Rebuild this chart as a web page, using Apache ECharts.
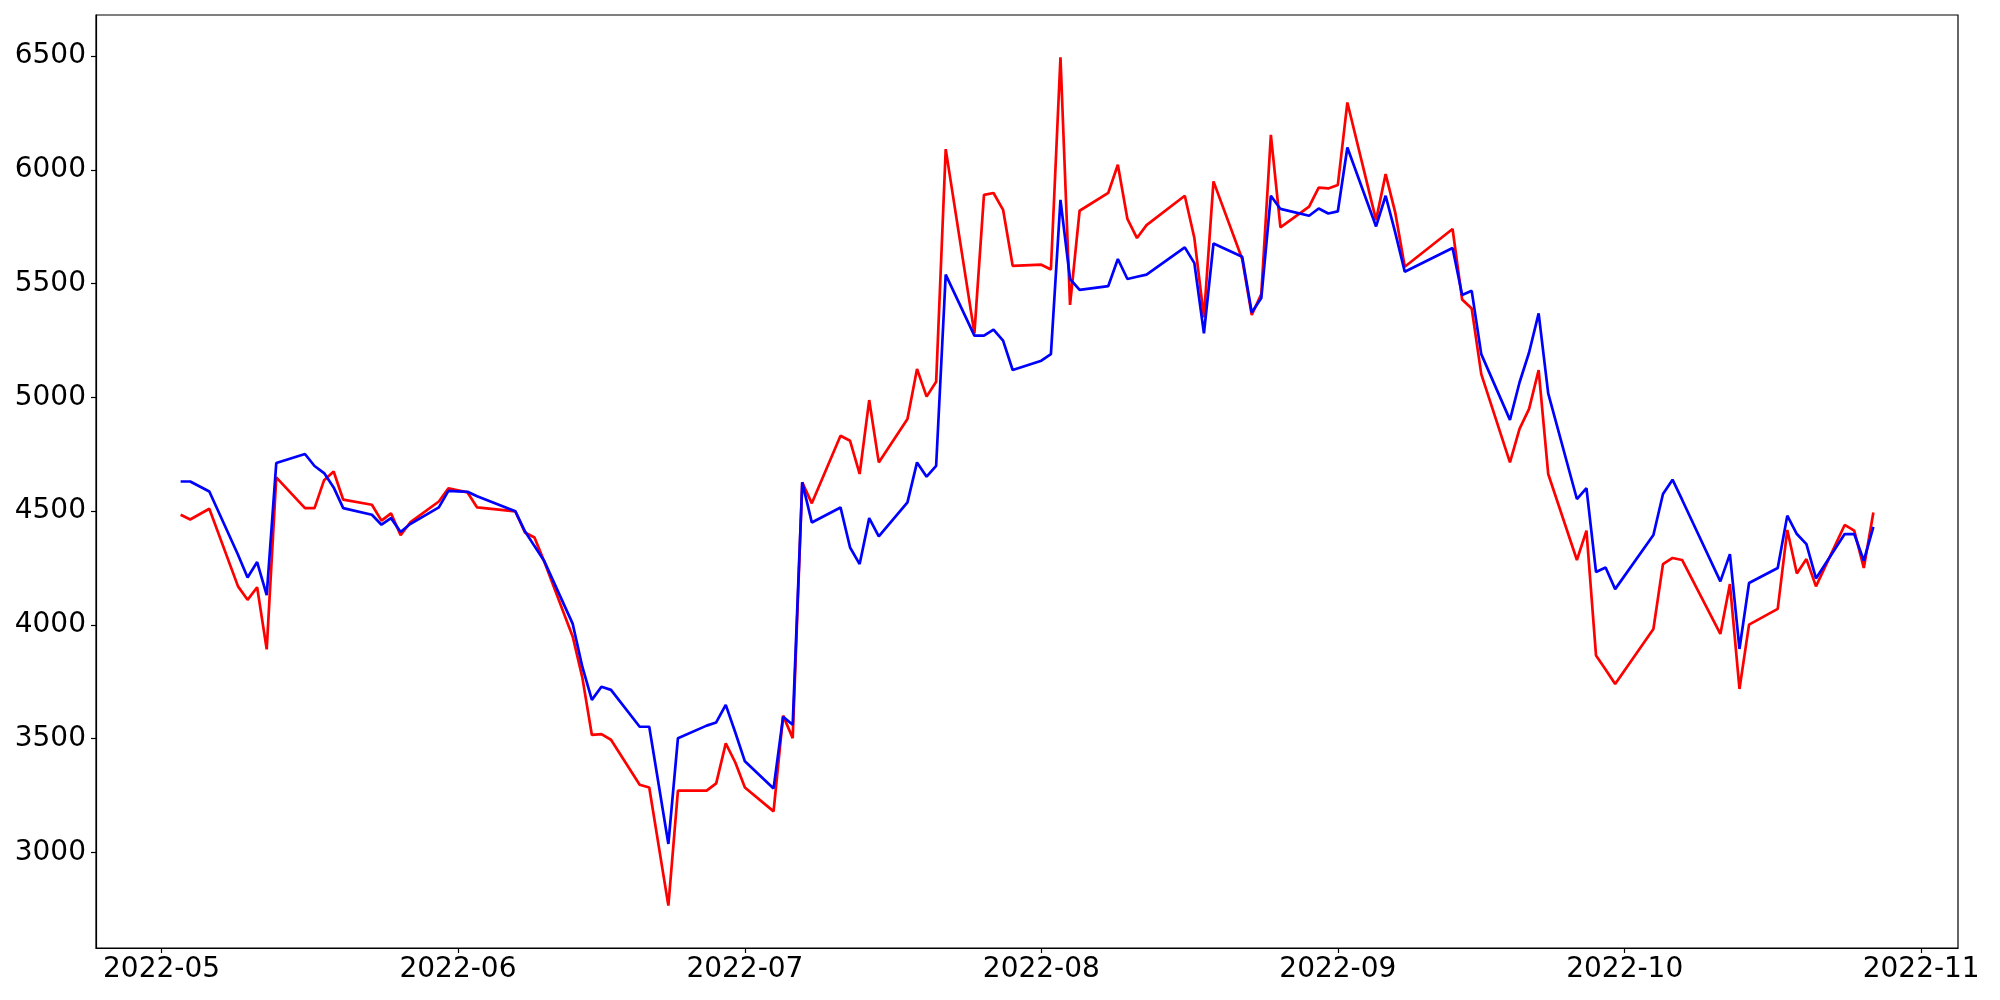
<!DOCTYPE html>
<html>
<head>
<meta charset="utf-8">
<script src="https://cdn.jsdelivr.net/npm/echarts@6/dist/echarts.min.js"></script>
<style>
html,body{margin:0;padding:0;background:#fff;}
#chart{width:2000px;height:1000px;}
</style>
</head>
<body>
<div id="chart"></div>
<script>
const dates = [
'2022-05-03','2022-05-04','2022-05-06','2022-05-09','2022-05-10','2022-05-11','2022-05-12','2022-05-13','2022-05-16','2022-05-17','2022-05-18','2022-05-19','2022-05-20','2022-05-23','2022-05-24','2022-05-25','2022-05-26','2022-05-27','2022-05-30','2022-05-31',
'2022-06-01','2022-06-02','2022-06-03','2022-06-07','2022-06-08','2022-06-09','2022-06-10','2022-06-13','2022-06-14','2022-06-15','2022-06-16','2022-06-17','2022-06-20','2022-06-21','2022-06-23','2022-06-24','2022-06-27','2022-06-28','2022-06-29','2022-06-30',
'2022-07-01','2022-07-04','2022-07-05','2022-07-06','2022-07-07','2022-07-08','2022-07-11','2022-07-12','2022-07-13','2022-07-14','2022-07-15','2022-07-18','2022-07-19','2022-07-20','2022-07-21','2022-07-22','2022-07-25','2022-07-26','2022-07-27','2022-07-28','2022-07-29',
'2022-08-01','2022-08-02','2022-08-03','2022-08-04','2022-08-05','2022-08-08','2022-08-09','2022-08-10','2022-08-11','2022-08-12','2022-08-16','2022-08-17','2022-08-18','2022-08-19','2022-08-22','2022-08-23','2022-08-24','2022-08-25','2022-08-26','2022-08-29','2022-08-30','2022-08-31',
'2022-09-01','2022-09-02','2022-09-05','2022-09-06','2022-09-07','2022-09-08','2022-09-13','2022-09-14','2022-09-15','2022-09-16','2022-09-19','2022-09-20','2022-09-21','2022-09-22','2022-09-23','2022-09-26','2022-09-27','2022-09-28','2022-09-29','2022-09-30',
'2022-10-04','2022-10-05','2022-10-06','2022-10-07','2022-10-11','2022-10-12','2022-10-13','2022-10-14','2022-10-17','2022-10-18','2022-10-19','2022-10-20','2022-10-21','2022-10-24','2022-10-25','2022-10-26','2022-10-27'
];
const redValues = [
4484,4463,4510,4169,4110,4165,3892,4648,4513,4513,4636,4674,4550,4528,4458,4490,4394,4450,4542,4600,
4591,4582,4516,4499,4406,4384,4280,3948,3769,3516,3520,3495,3297,3285,2766,3271,3271,3303,3479,3395,
3285,3180,3601,3502,4626,4534,4831,4809,4663,4988,4714,4905,5125,5003,5068,6091,5281,5890,5898,5824,5578,
5583,5562,6494,5406,5820,5899,6022,5784,5700,5757,5886,5700,5351,5949,5608,5362,5454,6154,5747,5838,5922,5918,
5933,6296,5779,5981,5813,5574,5740,5430,5390,5102,4714,4861,4949,5120,4663,4285,4414,3865,3804,3740,
3982,4267,4294,4285,3960,4179,3718,4001,4070,4417,4226,4289,4169,4439,4414,4250,4494
];
const blueValues = [
4630,4630,4586,4308,4208,4276,4131,4711,4751,4698,4667,4604,4513,4484,4440,4469,4408,4443,4516,4589,
4587,4585,4565,4499,4411,4346,4282,4004,3816,3670,3728,3714,3552,3552,3037,3502,3557,3571,3648,3527,
3400,3281,3596,3561,4626,4450,4516,4340,4267,4469,4389,4538,4714,4651,4699,5539,5271,5271,5298,5249,5120,
5161,5190,5868,5520,5472,5489,5608,5520,5530,5539,5659,5590,5281,5676,5618,5373,5436,5886,5828,5798,5830,5808,
5817,6098,5751,5886,5725,5552,5656,5450,5468,5190,4901,5065,5197,5369,5017,4553,4601,4232,4252,4157,
4395,4575,4638,4550,4191,4311,3894,4184,4250,4480,4399,4355,4204,4399,4399,4282,4431
];
const xTickDates = ['2022-05-01','2022-06-01','2022-07-01','2022-08-01','2022-09-01','2022-10-01','2022-11-01'];
const xTickLabels = ['2022-05','2022-06','2022-07','2022-08','2022-09','2022-10','2022-11'];
const yTickValues = [3000,3500,4000,4500,5000,5500,6000,6500];

function toTime(s){ const p = s.split('-').map(Number); return Date.UTC(p[0], p[1]-1, p[2]); }

const times = dates.map(toTime);
const tMin = Math.min(...times), tMax = Math.max(...times);
const tPad = (tMax - tMin) * 0.05;
const allVals = redValues.concat(blueValues);
const vMin = Math.min(...allVals), vMax = Math.max(...allVals);
const vPad = (vMax - vMin) * 0.05;
const xTickTimes = xTickDates.map(toTime);
function xLabel(v){
  let best = -1, bd = Infinity;
  xTickTimes.forEach((t, i) => { const d = Math.abs(t - v); if (d < bd) { bd = d; best = i; } });
  return bd < 3600000 ? xTickLabels[best] : '';
}

const chart = echarts.init(document.getElementById('chart'), null, {renderer: 'canvas'});
const font = 'DejaVu Sans';
chart.setOption({
  animation: false,
  backgroundColor: '#fff',
  grid: {left: 96, right: 42, top: 15, bottom: 52, show: true, borderColor: '#000', borderWidth: 1.2, backgroundColor: 'transparent'},
  xAxis: {
    type: 'value',
    min: tMin - tPad,
    max: tMax + tPad,
    scale: true,
    splitLine: {show: false},
    axisLine: {show: true, lineStyle: {color: '#000', width: 1.2}},
    axisTick: {show: true, length: 5, lineStyle: {color: '#000', width: 1.2}, customValues: xTickTimes},
    axisLabel: {
      customValues: xTickTimes,
      color: '#000', fontFamily: font, fontSize: 28, margin: 8,
      formatter: xLabel
    }
  },
  yAxis: {
    type: 'value',
    min: vMin - vPad,
    max: vMax + vPad,
    scale: true,
    splitLine: {show: false},
    axisLine: {show: true, lineStyle: {color: '#000', width: 1.2}},
    axisTick: {show: true, length: 5, lineStyle: {color: '#000', width: 1.2}, customValues: yTickValues},
    axisLabel: {customValues: yTickValues, color: '#000', fontFamily: font, fontSize: 28, margin: 10,
      formatter: function (v) { return String(Math.round(v)); }}
  },
  series: [
    {type: 'line', name: 'red', data: times.map((t, i) => [t, redValues[i]]), showSymbol: false, lineStyle: {color: '#ff0000', width: 2.7}, itemStyle: {color: '#ff0000'}},
    {type: 'line', name: 'blue', data: times.map((t, i) => [t, blueValues[i]]), showSymbol: false, lineStyle: {color: '#0000ff', width: 2.7}, itemStyle: {color: '#0000ff'}}
  ]
});
</script>
</body>
</html>
